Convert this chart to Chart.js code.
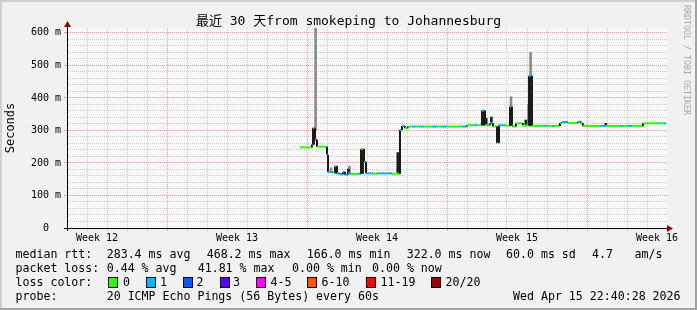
<!DOCTYPE html>
<html>
<head>
<meta charset="utf-8">
<script src="https://cdn.jsdelivr.net/npm/chart.js@4.4.1/dist/chart.umd.min.js"></script>
<style>
  html, body { margin: 0; padding: 0; background: #f1f1f1; }
  #wrap { position: relative; width: 697px; height: 310px; overflow: hidden; }
  #graf { position: absolute; left: 0; top: 0; }
  .t { position: absolute; font-family: 'DejaVu Sans Mono', monospace; font-size: 11.6px; line-height: 14px; color: #000; white-space: pre; }
  .caja { position: absolute; width: 8px; height: 9px; border: 1px solid #000; }
  #marca { position: absolute; left: 682px; top: 5px; writing-mode: vertical-rl; font-family: 'DejaVu Sans Mono', monospace; font-size: 8.3px; line-height: 10px; color: #a8a8a8; white-space: pre; }
</style>
</head>
<body>
<div id="wrap">
  <canvas id="graf" width="697" height="310"></canvas>
  <div id="marca">RRDTOOL / TOBI OETIKER</div>
  <div id="leyenda"></div>
</div>
<script>
// --- DATOS (días desde el inicio del gráfico, ms) ---
const dias = [11.65, 12.25, 12.30, 12.40, 12.50, 13.00, 13.05, 13.30, 13.40, 13.50, 13.65, 13.80, 13.90, 14.05, 14.20, 14.55,
  14.70, 14.85, 14.95, 15.30, 15.55, 16.25, 16.65, 16.75, 16.90, 17.05, 17.25, 17.45, 17.65, 17.85, 18.25, 18.50, 18.70,
  19.00, 19.75, 20.00, 20.35, 20.50, 20.75, 20.90, 21.15, 21.30, 21.50, 21.60, 21.90, 22.15, 22.25, 22.30, 22.45, 22.80,
  23.10, 23.25, 23.80, 23.95, 24.25, 24.35, 24.65, 24.75, 25.05, 25.55, 25.70, 25.80, 26.65, 26.95, 27.70, 27.80, 28.05,
  28.25, 28.80, 29.50, 29.60, 29.85];
const medianas = [248, 257, 307, 271, 250, 225, 172, 171, 190, 168, 165, 172, 164, 168, 166, 167,
  243, 204, 168, 167, 168, 167, 301, 314, 307, 312, 312, 312, 312, 312, 312, 312, 312,
  312, 312, 316, 316, 316, 361, 316, 322, 312, 261, 316, 315, 373, 315, 312, 322, 315,
  468, 314, 314, 314, 314, 314, 323, 326, 323, 327, 322, 314, 314, 314, 314, 314, 314,
  314, 322, 322, 322, 322];
const perdidas = [0, 1, 5, 4, 0, 1, 1, 0, 1, 1, 1, 1, 1, 1, 0, 1,
  0, 1, 1, 0, 1, 0, 1, 1, 0, 0, 1, 0, 1, 0, 1, 0, 1,
  0, 1, 0, 1, 0, 1, 0, 1, 0, 0, 1, 0, 1, 0, 0, 0, 0,
  1, 0, 1, 0, 1, 0, 0, 1, 0, 1, 0, 0, 1, 0, 1, 0, 1,
  0, 0, 1, 0, 1];
const finDatos = 29.95;

// humo (dispersión de los pings)
const humoDia = [12.33, 13.45, 14.07, 14.78, 16.54, 20.83, 20.96, 21.22, 22.20, 22.94, 23.18, 26.94];
const humoMin = [257, 168, 166, 167, 167, 316, 316, 322, 315, 315, 314, 314];
const humoMax = [307, 190, 181, 243, 232, 361, 337, 341, 373, 332, 468, 322];
const humoClaroDia = [12.43, 13.20, 14.12, 22.20, 23.18, 23.07];
const humoClaroMin = [300, 172, 170, 373, 468, 318];
const humoClaroMax = [620, 185, 190, 404, 540, 380];

// ejes
const semanasDia = [1.5, 8.5, 15.5, 22.5, 29.5];
const semanasEtiqueta = ['Week 12', 'Week 13', 'Week 14', 'Week 15', 'Week 16'];
const lineasSemana = [5, 12, 19, 26];
const etiquetasY = ['0  ', '100 m', '200 m', '300 m', '400 m', '500 m', '600 m'];

// leyenda
const nombresPerdida = ['0', '1', '2', '3', '4-5', '6-10', '11-19', '20/20'];
const coloresPerdida = ['#26ff00', '#00b8ff', '#0059ff', '#5e00ff', '#ff00ff', '#ff5500', '#ff0000', '#a10000'];

// --- CONSTRUCCIÓN DE PUNTOS ---
const puntos = [];
const perdidaPunto = [];
dias.forEach((d, i) => {
  const fin = i < dias.length - 1 ? dias[i + 1] : finDatos;
  puntos.push({ x: d, y: medianas[i] });
  puntos.push({ x: fin, y: medianas[i] });
  perdidaPunto.push(perdidas[i], perdidas[i]);
});
const humo = humoDia.map((d, i) => ({ x: d, y: [humoMin[i], humoMax[i]] }));
const humoClaro = humoClaroDia.map((d, i) => ({ x: d, y: [humoClaroMin[i], humoClaroMax[i]] }));

const marcasX = [];
for (let i = 0; i < 60; i++) marcasX.push(i * 0.5);
const marcasY = [];
for (let v = 0; v <= 600; v += 20) marcasY.push(v);

const ROJO = '#f09a9a';
const GRIS = '#cdcdcd';
const NADA = 'rgba(0,0,0,0)';
const fuente = "'DejaVu Sans Mono', 'Noto Sans CJK SC', monospace";

const colorRejillaX = (ctx) => {
  const v = ctx.tick ? ctx.tick.value : 0;
  if (v % 1 !== 0) return NADA;
  return lineasSemana.includes(v) ? ROJO : GRIS;
};
const colorRejillaY = (ctx) => {
  const v = ctx.tick ? ctx.tick.value : 0;
  return v % 100 === 0 ? ROJO : GRIS;
};

// --- FONDO, EJES CON FLECHA Y MARCO ---
const marco = {
  id: 'marco',
  beforeDraw(chart) {
    const { ctx, chartArea: a } = chart;
    ctx.save();
    ctx.fillStyle = '#f1f1f1';
    ctx.fillRect(0, 0, chart.width, chart.height);
    ctx.fillStyle = '#f7f7f7';
    ctx.fillRect(a.left, a.top, a.right - a.left, a.bottom - a.top);
    ctx.restore();
  },
  afterDraw(chart) {
    const { ctx, chartArea: a } = chart;
    const x0 = Math.round(a.left) + 0.5;
    const y0 = Math.round(a.bottom) + 0.5;
    ctx.save();
    ctx.strokeStyle = '#000';
    ctx.lineWidth = 1;
    ctx.beginPath();
    ctx.moveTo(x0, a.top - 2); ctx.lineTo(x0, a.bottom + 3);
    ctx.moveTo(a.left - 3, y0); ctx.lineTo(a.right, y0);
    ctx.stroke();
    ctx.fillStyle = '#9e0000';
    ctx.beginPath();
    ctx.moveTo(x0, a.top - 7); ctx.lineTo(x0 - 3.5, a.top - 1); ctx.lineTo(x0 + 3.5, a.top - 1);
    ctx.closePath(); ctx.fill();
    ctx.beginPath();
    ctx.moveTo(a.right + 6, y0); ctx.lineTo(a.right, y0 - 3.5); ctx.lineTo(a.right, y0 + 3.5);
    ctx.closePath(); ctx.fill();
    ctx.fillStyle = '#cfcfcf';
    ctx.fillRect(0, 0, chart.width, 2);
    ctx.fillRect(0, 0, 2, chart.height);
    ctx.fillStyle = '#a3a3a3';
    ctx.fillRect(0, chart.height - 2, chart.width, 2);
    ctx.fillRect(chart.width - 2, 0, 2, chart.height);
    ctx.restore();
  }
};

// --- GRÁFICO ---
const ctxGraf = document.getElementById('graf').getContext('2d');
new Chart(ctxGraf, {
  type: 'bar',
  data: {
    datasets: [
      {
        type: 'line',
        data: puntos,
        order: 0,
        borderWidth: 2,
        borderColor: coloresPerdida[0],
        borderCapStyle: 'butt',
        borderJoinStyle: 'miter',
        pointRadius: 0,
        tension: 0,
        segment: {
          borderColor: ctx => ctx.p0DataIndex % 2 === 0
            ? coloresPerdida[perdidaPunto[ctx.p0DataIndex]]
            : '#1a1a1a'
        }
      },
      {
        data: humo,
        order: 1,
        backgroundColor: '#1e1e1e',
        barThickness: 2,
        grouped: false,
        borderWidth: 0
      },
      {
        data: humoClaro,
        order: 2,
        backgroundColor: '#8c8c8c',
        barThickness: 2,
        grouped: false,
        borderWidth: 0
      }
    ]
  },
  options: {
    responsive: false,
    animation: false,
    devicePixelRatio: 1,
    layout: { padding: { left: 0, right: 0, top: 0, bottom: 64 } },
    plugins: {
      legend: { display: false },
      tooltip: { enabled: false },
      title: {
        display: true,
        text: '最近 30 天from smokeping to Johannesburg',
        color: '#000',
        font: { family: fuente, size: 13, weight: 'normal', lineHeight: 1 },
        padding: { top: 15, bottom: 0 }
      }
    },
    scales: {
      x: {
        type: 'linear',
        min: 0,
        max: 30,
        offset: false,
        afterBuildTicks: s => { s.ticks = marcasX.map(v => ({ value: v })); },
        afterFit: s => { s.height = 18; },
        grid: { offset: false, color: colorRejillaX, tickColor: colorRejillaX, tickLength: 3, lineWidth: 1 },
        border: { display: true, color: '#000', width: 1, dash: [1, 1] },
        ticks: {
          autoSkip: false,
          maxRotation: 0,
          padding: 1,
          color: '#000',
          font: { family: fuente, size: 10 },
          callback: v => {
            const i = semanasDia.indexOf(v);
            return i >= 0 ? semanasEtiqueta[i] : '';
          }
        }
      },
      y: {
        position: 'left',
        min: 0,
        max: 615,
        afterBuildTicks: s => { s.ticks = marcasY.map(v => ({ value: v })); },
        afterFit: s => { s.width = 67; },
        grid: { color: colorRejillaY, tickColor: ctx => (ctx.tick && ctx.tick.value % 100 === 0 ? ROJO : NADA), tickLength: 3, lineWidth: 1 },
        border: { display: true, color: '#000', width: 1, dash: [1, 1] },
        ticks: {
          autoSkip: false,
          padding: 3,
          color: '#000',
          font: { family: fuente, size: 10 },
          callback: v => (v % 100 === 0 ? etiquetasY[v / 100] : '')
        },
        title: {
          display: true,
          text: 'Seconds',
          color: '#000',
          font: { family: fuente, size: 12, weight: 'normal' },
          padding: { top: 4, bottom: 0 }
        }
      },
      yDer: {
        position: 'right',
        display: true,
        grid: { display: false },
        border: { display: false },
        ticks: { display: false },
        afterFit: s => { s.width = 30; }
      }
    }
  },
  plugins: [marco]
});

// --- LEYENDA INFERIOR ---
const leyenda = document.getElementById('leyenda');
const texto = (x, y, s) => {
  const el = document.createElement('div');
  el.className = 't';
  el.style.left = x + 'px';
  el.style.top = y + 'px';
  el.textContent = s;
  leyenda.appendChild(el);
};
texto(15.5, 247, 'median rtt:');
texto(106.7, 247, '283.4 ms avg');
texto(206.7, 247, '468.2 ms max');
texto(306.7, 247, '166.0 ms min');
texto(406.7, 247, '322.0 ms now');
texto(506, 247, '60.0 ms sd');
texto(592, 247, '4.7');
texto(634.5, 247, 'am/s');

texto(15.5, 261, 'packet loss:');
texto(106.7, 261, '0.44 % avg');
texto(197.7, 261, '41.81 % max');
texto(292, 261, '0.00 % min');
texto(372, 261, '0.00 % now');

texto(15.5, 275, 'loss color:');
const xCaja = [108, 145.5, 182.5, 219.5, 256, 306.5, 365.5, 431];
const xNombre = [123, 160, 196.5, 233, 270.5, 321.5, 380.5, 445.5];
nombresPerdida.forEach((n, i) => {
  const c = document.createElement('div');
  c.className = 'caja';
  c.style.left = xCaja[i] + 'px';
  c.style.top = '277px';
  c.style.background = coloresPerdida[i];
  leyenda.appendChild(c);
  texto(xNombre[i], 275, n);
});

texto(15.5, 289, 'probe:');
texto(106.7, 289, '20 ICMP Echo Pings (56 Bytes) every 60s');
texto(513, 289, 'Wed Apr 15 22:40:28 2026');
</script>
</body>
</html>
